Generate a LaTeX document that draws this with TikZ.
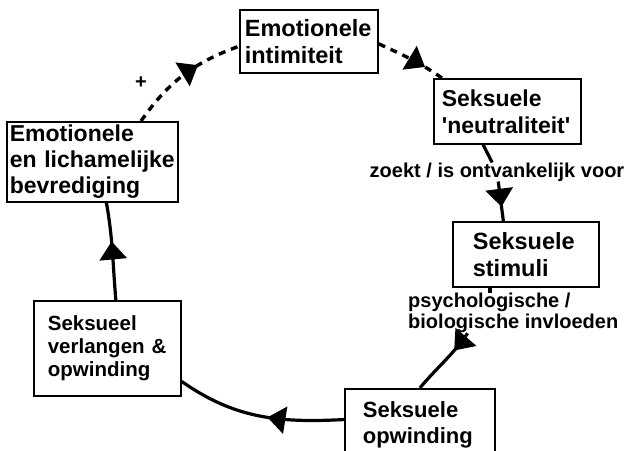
\documentclass[tikz,border=0pt]{standalone}
\usepackage{fontspec}
\setmainfont{Liberation Sans}
\usetikzlibrary{arrows.meta, decorations.markings}

\tikzstyle{stage} = [rectangle, draw=black, line width=1.7pt, anchor=north west, align=left, inner ysep=0pt, font=\fontsize{23}{27}\selectfont\bfseries]
\tikzstyle{cue} = [font=\fontsize{20}{21.5}\selectfont\bfseries, align=left, inner sep=0pt]
\tikzstyle{flow} = [line width=3.2pt]
\tikzstyle{dashflow} = [line width=3.4pt, dash pattern=on 7pt off 6pt]
\tikzset{midarrow/.style={postaction={decorate, solid}, decoration={markings, mark=at position #1 with {\arrow{Triangle[length=18pt,width=27pt]}}}}}

\begin{document}
\begin{tikzpicture}[x=1pt, y=1pt]
\useasboundingbox (0,0) rectangle (629,450);
\clip (0,0) rectangle (629,450);

\node (intim) [stage, minimum height=63pt, inner xsep=5pt, text width=128pt, font=\fontsize{23.5}{27}\selectfont\bfseries] at (239,441) {Emotionele\\intimiteit};
\node (neutr) [stage, minimum height=65pt, inner xsep=8pt, text width=131pt] at (433,372) {Seksuele\\\textquotesingle neutraliteit\textquotesingle};
\node (bevr) [stage, minimum height=80pt, inner xsep=3pt, text width=165pt, font=\fontsize{23}{26}\selectfont\bfseries] at (6,329) {Emotionele\\en lichamelijke\\bevrediging};
\node (stim) [stage, minimum height=65pt, inner xsep=20pt, text width=106pt, font=\fontsize{23.5}{27}\selectfont\bfseries] at (452,229) {Seksuele\\stimuli};
\node (verl) [stage, minimum height=95pt, inner xsep=14pt, text width=119pt, font=\fontsize{20.5}{23}\selectfont\bfseries] at (33,150) {Seksueel\\verlangen \&\\opwinding};
\node (opw) [stage, minimum height=72pt, inner xsep=18pt, text width=114pt, font=\fontsize{22}{26}\selectfont\bfseries] at (344,62) {Seksuele\\opwinding};

\node (zoekt) [cue] at (497,278) {zoekt / is ontvankelijk voor};
\node (invloed) [cue, anchor=west] at (408,137) {psychologische /\\biologische invloeden};
\node (plus) [cue] at (141,367) {+};

\draw [dashflow, midarrow=0.64] (bevr.40) to[out=55, in=200] (intim.184);
\draw [dashflow, midarrow=0.72] (intim.358) to[out=-25, in=145] (neutr.153);
\draw [flow] (neutr.234) -- (zoekt);
\draw [flow, midarrow=0.64] (zoekt) -- (stim.124);
\draw [flow] (stim.223) -- (invloed.north -| stim.223);
\draw [flow, midarrow=0.3] (invloed.204) to[out=235, in=50] (opw.north);
\draw [flow, midarrow=0.45] (opw.176) to[out=183, in=-35] (verl.336);
\draw [flow, midarrow=0.6] (verl.80) to[out=95, in=-80] (bevr.289);

\end{tikzpicture}
\end{document}
